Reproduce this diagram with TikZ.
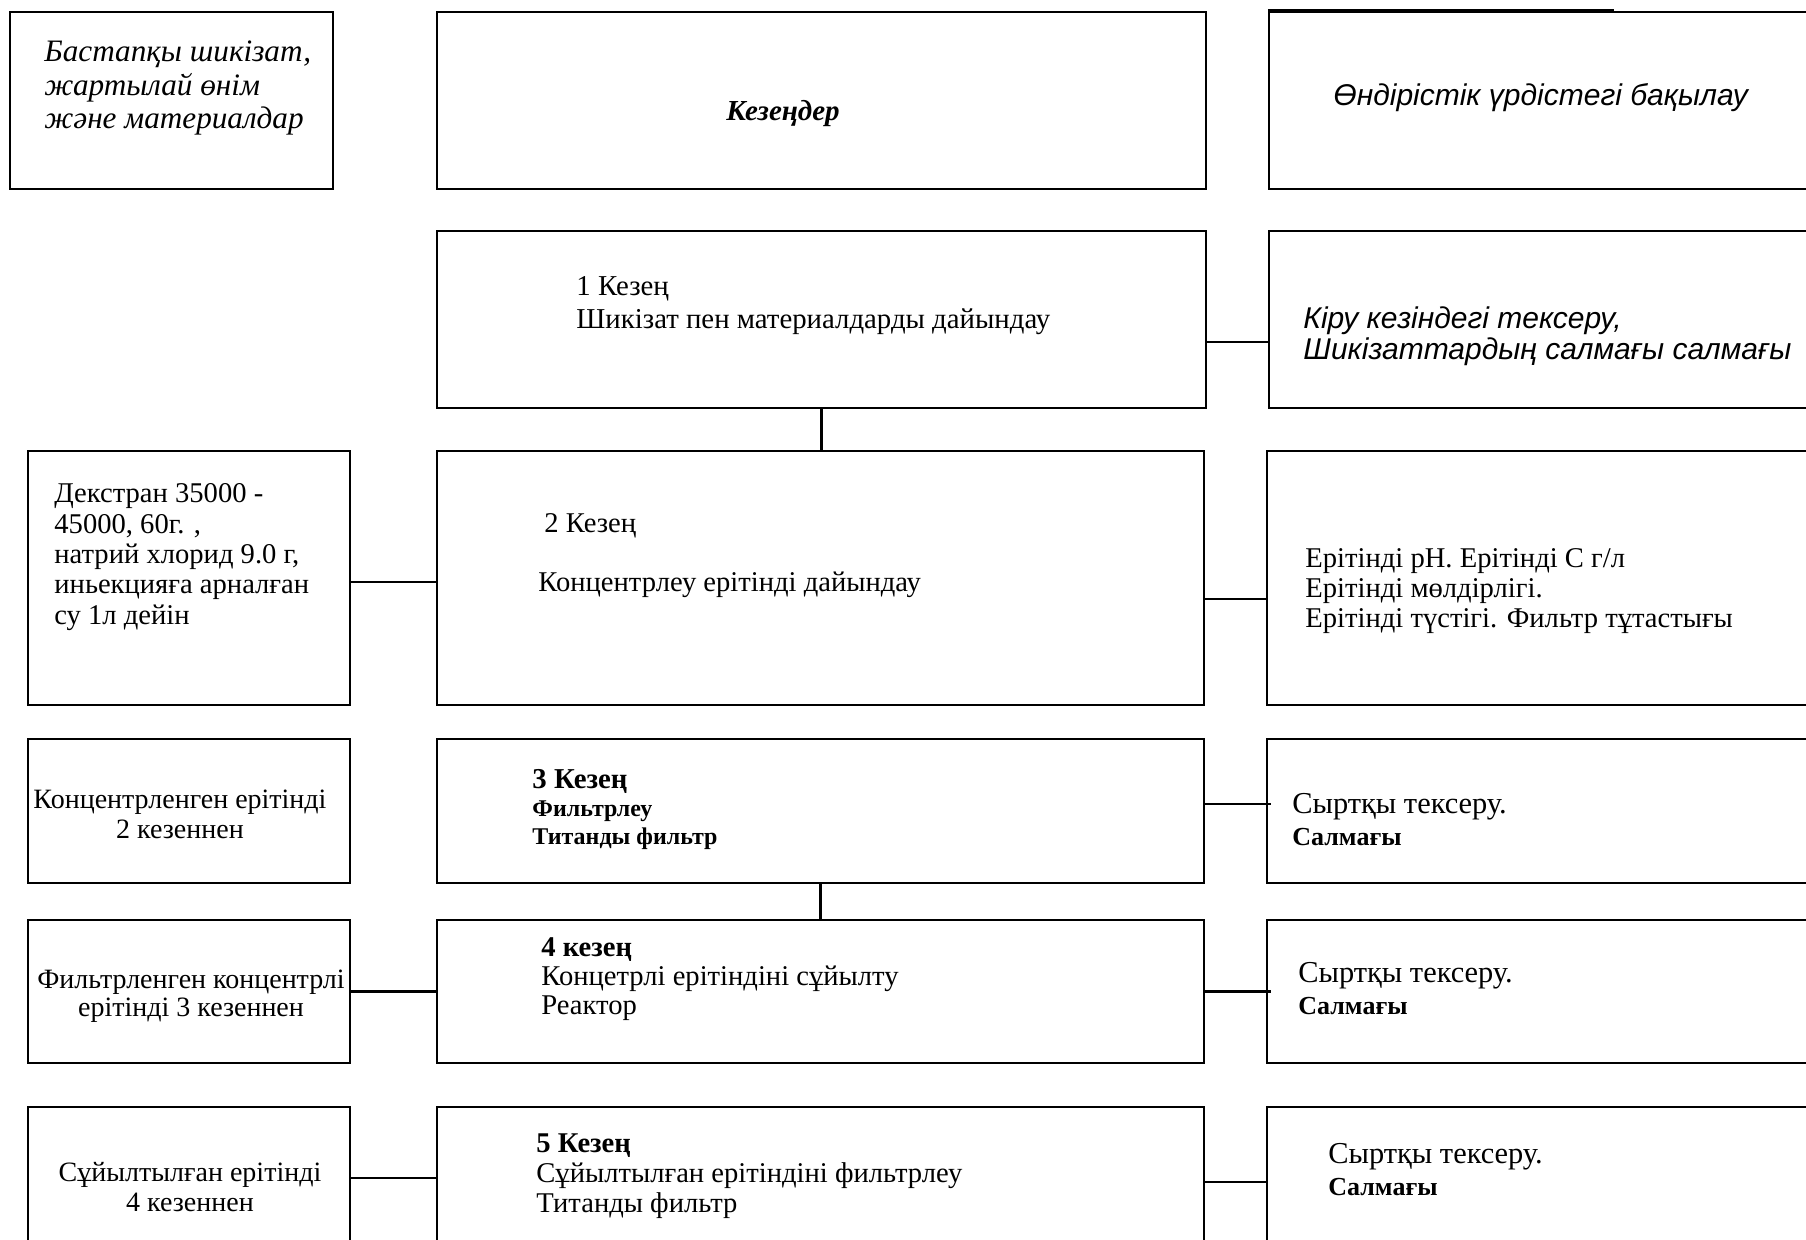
\documentclass[tikz,border=0pt]{standalone}
\usepackage{fontspec}
\setmainfont{Liberation Serif}
\setsansfont{Liberation Sans}
\usetikzlibrary{fit}
\begin{document}
\begin{tikzpicture}[x=0.5pt,y=-0.5pt,
  box/.style={draw, line width=1.1pt, inner sep=0pt},
  link/.style={line width=1.1pt},
  txt/.style={inner sep=0pt, align=left, anchor=west, font=\fontsize{14.3}{15.3}\selectfont},
  ctxt/.style={inner sep=0pt, align=center, font=\fontsize{14}{15}\selectfont},
  sanstxt/.style={inner sep=0pt, align=left, anchor=west, font=\fontsize{15}{15.6}\selectfont\sffamily\itshape}]
\useasboundingbox (0,0) rectangle (1806,1240);
\fill[white] (0,0) rectangle (1806,1240);

% ---- row 0 : headers
\node[box, fit={(10,12) (333,189)}] (A) {};
\node[inner sep=0pt, align=left, anchor=west, font=\fontsize{15.6}{16.7}\selectfont\itshape] (Atxt) at (44,88)
  {Бастапқы шикізат,\\жартылай өнім\\және материалдар};
\node[box, fit={(437,12) (1206,189)}] (B) {};
\node[inner sep=0pt, font=\fontsize{14.5}{16}\selectfont\bfseries\itshape] (Btxt) at (783,114) {Кезеңдер};
\node[box, fit={(1269,12) (1830,189)}] (C) {};
\draw[line width=1.8pt] (C.north west) -- ++(346,0);
\node[sanstxt] (Ctxt) at (1333,98) {Өндірістік үрдістегі бақылау};

% ---- row 1
\node[box, fit={(437,231) (1206,408)}] (S1) {};
\node[txt, font=\fontsize{14.4}{16.5}\selectfont] (S1txt) at (576,306)
  {1 Кезең\\Шикізат пен материалдарды дайындау};
\node[box, fit={(1269,231) (1830,408)}] (R1) {};
\node[sanstxt] (R1txt) at (1303,336)
  {Кіру кезіндегі тексеру,\\Шикізаттардың салмағы салмағы};

% ---- row 2
\node[box, fit={(28,451) (350,705)}] (L2) {};
\node[txt, font=\fontsize{14.3}{15.2}\selectfont] (L2txt) at (54,557)
  {Декстран 35000 -\\45000, 60г. ,\\натрий хлорид 9.0 г,\\иньекцияға арналған\\су 1л дейін};
\node[box, fit={(437,451) (1204,705)}] (S2) {};
\node[txt] (S2a) at (544,526) {2 Кезең};
\node[txt] (S2b) at (538,585) {Концентрлеу ерітінді дайындау};
\node[box, fit={(1267,451) (1830,705)}] (R2) {};
\node[txt, font=\fontsize{14.3}{15}\selectfont] (R2txt) at (1305,591)
  {Ерітінді pH. Ерітінді С г/л\\Ерітінді мөлдірлігі.\\Ерітінді түстігі. Фильтр тұтастығы};

% ---- row 3
\node[box, fit={(28,739) (350,883)}] (L3) {};
\node[ctxt] (L3txt) at (180,814) {Концентрленген ерітінді\\2 кезеннен};
\node[box, fit={(437,739) (1204,883)}] (S3) {};
\node[txt, font=\fontsize{12}{14}\selectfont\bfseries] (S3txt) at (532,810)
  {{\fontsize{14.4}{14}\selectfont 3 Кезең}\\Фильтрлеу\\Титанды фильтр};
\node[box, fit={(1267,739) (1830,883)}] (R3) {};
\node[txt, font=\fontsize{13}{16}\selectfont] (R3txt) at (1292,820)
  {{\fontsize{15.2}{16}\selectfont Сыртқы тексеру.}\\\textbf{Салмағы}};

% ---- row 4
\node[box, fit={(28,920) (350,1063)}] (L4) {};
\node[ctxt, font=\fontsize{14}{13.8}\selectfont] (L4txt) at (191,996) {Фильтрленген концентрлі\\ерітінді 3 кезеннен};
\node[box, fit={(437,920) (1204,1063)}] (S4) {};
\node[txt, font=\fontsize{14.3}{14.4}\selectfont] (S4txt) at (541,979)
  {\textbf{4 кезең}\\Концетрлі ерітіндіні сұйылту\\Реактор};
\node[box, fit={(1267,920) (1830,1063)}] (R4) {};
\node[txt, font=\fontsize{13}{16}\selectfont] (R4txt) at (1298,989)
  {{\fontsize{15.2}{16}\selectfont Сыртқы тексеру.}\\\textbf{Салмағы}};

% ---- row 5
\node[box, fit={(28,1107) (350,1260)}] (L5) {};
\node[ctxt] (L5txt) at (190,1187) {Сұйылтылған ерітінді\\4 кезеннен};
\node[box, fit={(437,1107) (1204,1260)}] (S5) {};
\node[txt, font=\fontsize{14.3}{15}\selectfont] (S5txt) at (536,1176)
  {\textbf{5 Кезең}\\Сұйылтылған ерітіндіні фильтрлеу\\Титанды фильтр};
\node[box, fit={(1267,1107) (1830,1260)}] (R5) {};
\node[txt, font=\fontsize{13}{16}\selectfont] (R5txt) at (1328,1170)
  {{\fontsize{15.2}{16}\selectfont Сыртқы тексеру.}\\\textbf{Салмағы}};

% ---- connectors
\draw[link] ([yshift=-11.25pt]S1.east) -- ([yshift=-11.25pt]R1.west);
\draw[link] (S1.south) -- (S1.south |- S2.north);
\draw[link] ([yshift=-2pt]L2.east) -- ([yshift=-2pt]L2.east -| S2.west);
\draw[link] ([yshift=-10.5pt]S2.east) -- ([yshift=-10.5pt]R2.west);
\draw[link] ([yshift=3.5pt]S3.east) -- ([xshift=2.5pt,yshift=3.5pt]R3.west);
\draw[link] (S3.south) -- (S3.south |- S4.north);
\draw[link] (L4.east) -- (S4.west);
\draw[link] (S4.east) -- ([xshift=2.5pt]R4.west);
\draw[link] ([yshift=2.75pt]L5.east) -- ([yshift=2.75pt]S5.west);
\draw[link] ([yshift=0.75pt]S5.east) -- ([yshift=0.75pt]R5.west);
\end{tikzpicture}
\end{document}
